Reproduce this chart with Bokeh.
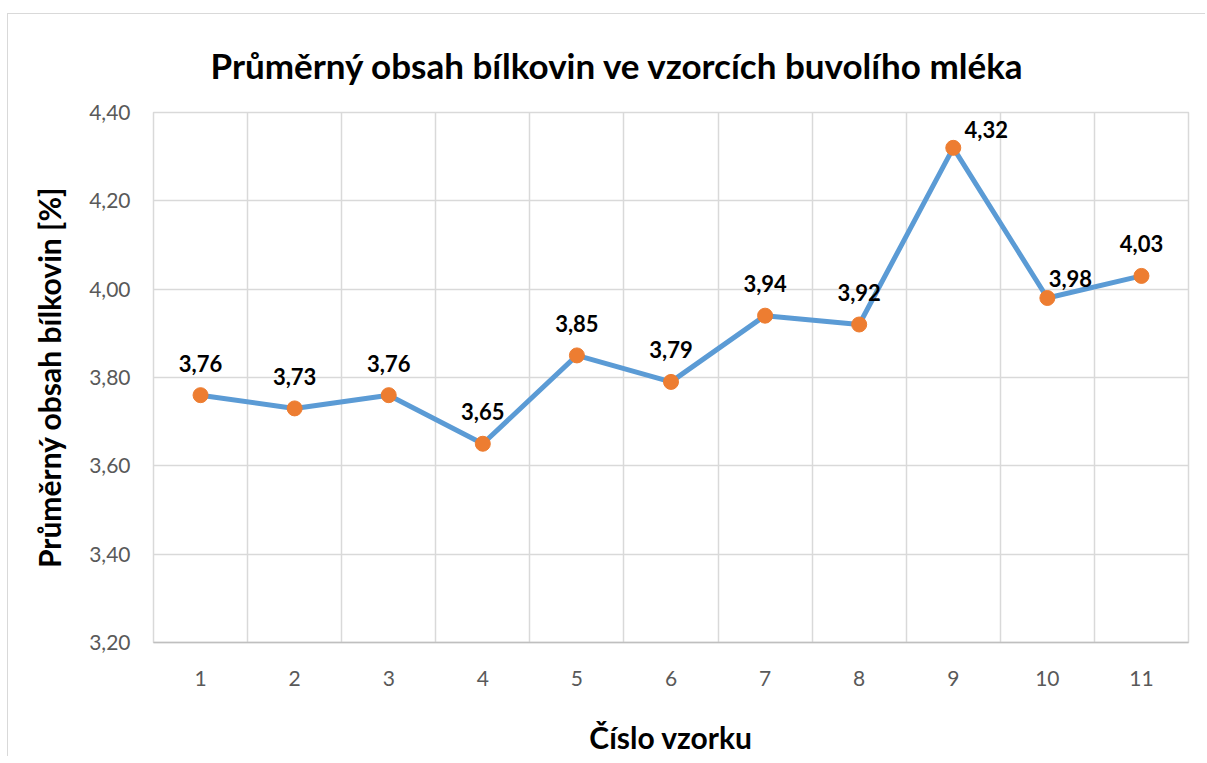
from bokeh.plotting import figure
from bokeh.models import ColumnDataSource, FixedTicker, CustomJSTickFormatter, Range1d, Title, LabelSet
from bokeh.core.properties import value
from bokeh.embed import file_html
from bokeh.resources import INLINE

# data
samples = [1, 2, 3, 4, 5, 6, 7, 8, 9, 10, 11]
protein = [3.76, 3.73, 3.76, 3.65, 3.85, 3.79, 3.94, 3.92, 4.32, 3.98, 4.03]
y_ticks = [3.20, 3.40, 3.60, 3.80, 4.00, 4.20, 4.40]
title_text = "Průměrný obsah bílkovin ve vzorcích buvolího mléka"
x_label = "Číslo vzorku"
y_label = "Průměrný obsah bílkovin [%]"

FONT = "Lato"

labels = [f"{v:.2f}".replace(".", ",") for v in protein]
# label placement (style): default above, special for 9 and 10
special = {9: (33, 18), 10: (23, 20)}
xo = [special.get(s, (0, 32))[0] for s in samples]
yo = [special.get(s, (0, 32))[1] for s in samples]

src = ColumnDataSource(dict(x=samples, y=protein, lab=labels, xo=xo, yo=yo))

p = figure(width=1198, height=743, output_backend="svg", toolbar_location=None,
           x_range=Range1d(0.5, 11.5), y_range=Range1d(3.2, 4.4),
           min_border_left=145, min_border_right=18, min_border_top=97, min_border_bottom=114)
p.styles = {"margin-left": "7px", "margin-top": "13px",
            "border-left": "1.5px solid #d9d9d9", "border-top": "1.5px solid #d9d9d9"}

p.add_layout(Title(text=title_text, align="left", offset=57, text_font=FONT,
                   text_font_size="35px", text_font_style="bold", text_color="#000000",
                   standoff=54), "above")

p.outline_line_color = "#d9d9d9"
p.outline_line_width = 1.5
p.background_fill_color = "white"
p.border_fill_color = "white"

# grid
p.xgrid.ticker = FixedTicker(ticks=[i + 0.5 for i in range(0, 12)])
p.xgrid.grid_line_color = "#d9d9d9"
p.xgrid.grid_line_width = 1.5
p.ygrid.ticker = FixedTicker(ticks=y_ticks)
p.ygrid.grid_line_color = "#d9d9d9"
p.ygrid.grid_line_width = 1.5

# axes
p.xaxis.ticker = FixedTicker(ticks=samples)
p.yaxis.ticker = FixedTicker(ticks=y_ticks)
p.yaxis.formatter = CustomJSTickFormatter(code="return tick.toFixed(2).replace('.', ',');")
for ax in (p.xaxis[0], p.yaxis[0]):
    ax.major_tick_line_color = None
    ax.minor_tick_line_color = None
    ax.major_label_text_font = FONT
    ax.major_label_text_font_size = "21px"
    ax.major_label_text_color = "#595959"
    ax.axis_label_text_font = FONT
    ax.axis_label_text_font_size = "30px"
    ax.axis_label_text_font_style = "bold"
    ax.axis_label_text_color = "#000000"
p.yaxis.axis_line_color = None
p.xaxis.axis_line_color = "#bfbfbf"
p.xaxis.axis_line_width = 1.5
p.xaxis.axis_label = x_label
p.yaxis.axis_label = y_label
p.yaxis.major_label_standoff = 17
p.xaxis.major_label_standoff = 22
p.yaxis.axis_label_standoff = 19
p.xaxis.axis_label_standoff = 30

p.line("x", "y", source=src, line_color="#5B9BD5", line_width=5)
p.scatter("x", "y", source=src, size=15, fill_color="#ED7D31", line_color="#ED7D31")

p.add_layout(LabelSet(x="x", y="y", text="lab", source=src, x_offset="xo", y_offset="yo",
                      text_align="center", text_baseline="middle", text_font=value(FONT),
                      text_font_size="22px", text_font_style="bold", text_color="#000000"))

open("out.html", "w").write(file_html(p, INLINE))
